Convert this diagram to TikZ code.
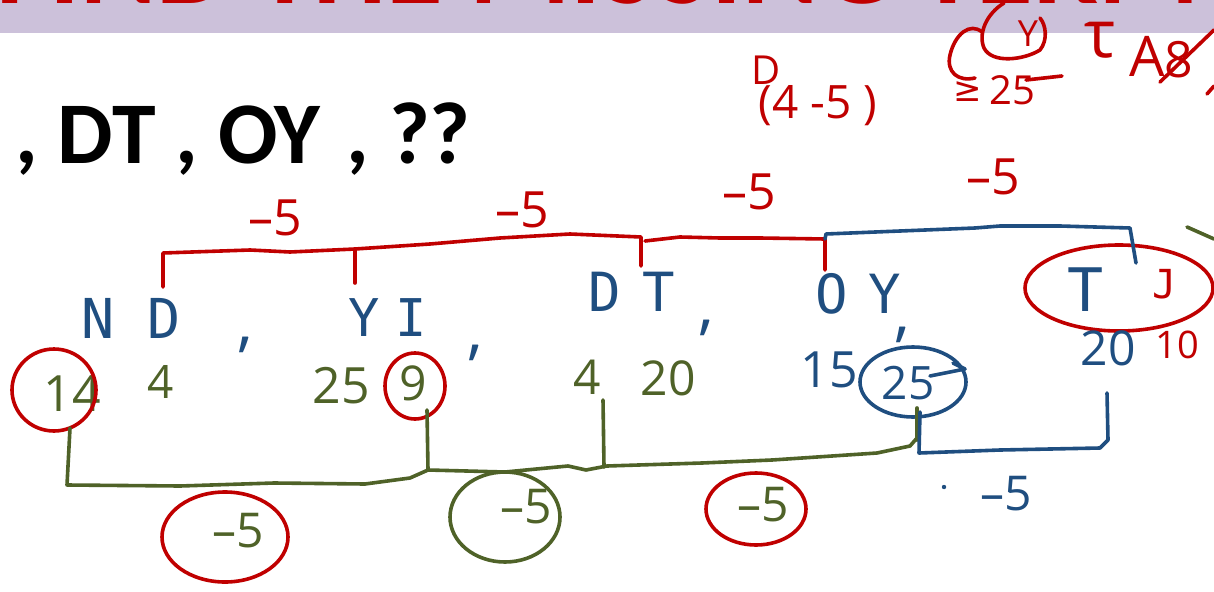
\documentclass[tikz,border=0pt]{standalone}
\usepackage{fontspec}
\usetikzlibrary{shapes.geometric}
\setmainfont{Carlito}
\newfontfamily\hand{Open Sans}
\newfontfamily\handl{DejaVu Sans Mono}
\newfontfamily\symf{DejaVu Sans}
\definecolor{inkred}{RGB}{192,0,0}
\definecolor{inkblue}{RGB}{31,78,128}
\definecolor{inkgreen}{RGB}{79,98,40}
\definecolor{bandc}{RGB}{204,193,218}
\newcommand\fsz[1]{\fontsize{#1}{#1}\selectfont}
\begin{document}
\begin{tikzpicture}[x=1pt,y=-1pt,
  pen/.style={line width=3.6pt,line cap=round,line join=round},
  rp/.style={pen,draw=inkred},
  bp/.style={pen,draw=inkblue},
  gp/.style={pen,draw=inkgreen},
  hw/.style={inner sep=0pt},
  rt/.style={hw,text=inkred},
  bt/.style={hw,text=inkblue},
  gt/.style={hw,text=inkgreen},
  sz/.style={font=\hand\fsz{#1}},
  lz/.style={font=\handl\fsz{#1}},
]
\useasboundingbox (0,0) rectangle (1214,591);
\fill[white] (0,0) rectangle (1214,591);
% title band
\begin{scope}
  \clip (0,0) rectangle (1214,33);
  \fill[bandc] (0,0) rectangle (1214,33);
  \node[anchor=base west,inner sep=0pt,text=inkred,font=\bfseries\fsz{116}] (title) at (-4,4) {FIND THE MISSING TERM};
\end{scope}
% typed series
\node[anchor=base west,inner sep=0pt,font=\bfseries\fsz{88}] (series) at (15,163) {, DT , OY\hspace{26pt}, ??};

% red notes at top
\node[rt,sz=40] (dnote) at (766,70) {D};
\node[rt,sz=46] (fnote) at (818,106) {(4 -5 )};
\node[rt,sz=36] (ynote) at (1028,34) {Y};
\draw[rp] (1004,3) .. controls (986,14) and (978,34) .. (984,48) .. controls (992,64) and (1024,60) .. (1040,50) .. controls (1048,40) and (1046,25) .. (1040,18);
\draw[rp] (982,32) .. controls (970,22) and (955,34) .. (950,55) .. controls (946,72) and (958,82) .. (975,78);
\node[rt,font=\symf\fsz{34}] (gnote) at (968,92) {≥};
\node[rt,sz=40] (tfnote) at (1012,90) {25};
\draw[rp] (1026,80) -- (1062,76);
\node[rt,sz=66] (taunote) at (1100,40) {τ};
\node[rt,sz=56] (anote) at (1147,56) {A};
\node[rt,sz=50] (enote) at (1179,60) {8};
\draw[rp] (1160,82) -- (1214,30);
\draw[rp] (1207,94) -- (1214,86);

% red difference labels
\node[rt,sz=50] (r1) at (275,218) {–5};
\node[rt,sz=50] (r2) at (522,210) {–5};
\node[rt,sz=50] (r3) at (749,192) {–5};
\node[rt,sz=50] (r4) at (993,177) {–5};

% letter pairs
\node[bt,lz=55] (nd) at (131,318) {N D};
\node[bt,lz=52] (yi) at (388,318) {Y\hspace{16pt}I};
\node[bt,lz=54] (dt) at (632,292) {D\hspace{22pt}T};
\node[bt,lz=54] (oy) at (858,294) {O\hspace{21pt}Y};
\node[bt,lz=60] (tt) at (1086,290) {T};
\node[rt,lz=40] (jj) at (1165,284) {J};
\node[draw=inkred,line width=3.6pt,ellipse,minimum width=188pt,minimum height=86pt,inner sep=0pt] (tjring) at (1119,288) {};

% commas
\node[bt,sz=64] (c1) at (245,345) {,};
\node[bt,sz=64] (c2) at (475,353) {,};
\node[bt,sz=64] (c3) at (706,328) {,};
\node[bt,sz=64] (c4) at (902,335) {,};

% top brackets
\coordinate (rb1) at (163,287);
\coordinate (rb2) at (355,283);
\coordinate (rb3) at (641,266);
\coordinate (rb4) at (825,270);
\coordinate (bb2) at (1136,263);
\draw[rp] (rb1) -- (163,253) -- (250,250) -- (290,252) -- (355,249) -- (430,244) -- (500,238) -- (570,234) -- (641,237) -- (rb3);
\draw[rp] (rb2) -- (355,249);
\draw[rp] (645,241) -- (680,237) -- (720,238) -- (760,238) -- (825,239) -- (rb4);
\draw[bp] (825,239) -- (826,234) -- (900,231) -- (975,228) -- (1000,226) -- (1060,226) -- (1130,228) -- (bb2);
\draw[gp] (1187,227) -- (1214,239);

% numbers
\node[gt,sz=50] (n14) at (72,394) {14};
\draw[rp] (54,390) ellipse [x radius=42pt,y radius=41pt];
\node[gt,sz=46] (n4a) at (161,382) {4};
\node[gt,sz=50] (n25a) at (341,386) {25};
\node[gt,sz=48] (n9) at (413,383) {9};
\draw[rp] (415,386) ellipse [x radius=30pt,y radius=33pt];
\node[gt,sz=48] (n4b) at (587,377) {4};
\node[gt,sz=48] (n20a) at (668,378) {20};
\node[bt,sz=50] (n15) at (829,370) {15};
\node[bt,sz=46] (n25b) at (908,383) {25};
\draw[bp] (913,382) ellipse [x radius=53pt,y radius=35pt];
\draw[bp] (930,376) -- (965,369) -- (953,363);
\node[bt,sz=48] (n20b) at (1108,348) {20};
\node[rt,sz=38] (n10) at (1177,345) {10};

% bottom brackets
\coordinate (g1) at (70,428);
\coordinate (g2) at (427,410);
\coordinate (g3) at (603,400);
\coordinate (g4) at (917,408);
\coordinate (bl1) at (920,412);
\coordinate (bl2) at (1107,393);
\draw[gp] (g1) -- (67,485) -- (180,486) -- (274,483) -- (365,484) -- (410,478) -- (428,470) -- (505,472) -- (568,466) -- (586,470) -- (607,466) -- (702,463) -- (772,460) -- (877,453) -- (910,446) -- (917,438);
\draw[gp] (g2) -- (428,470);
\draw[gp] (g3) -- (604,467);
\draw[gp] (g4) -- (917,440);
\draw[bp] (bl1) -- (919,453) -- (1000,450) -- (1100,448) -- (1108,440) -- (bl2);

% circled differences
\draw[rp] (225,537) ellipse [x radius=63pt,y radius=45pt];
\node[gt,sz=48] (d1) at (238,531) {–5};
\draw[gp] (505,517) ellipse [x radius=55pt,y radius=45pt];
\node[gt,sz=48] (d2) at (526,507) {–5};
\draw[rp] (756,509) ellipse [x radius=50pt,y radius=36pt];
\node[gt,sz=48] (d3) at (763,505) {–5};
\fill[inkblue] (944,487) circle (2.2pt);
\node[bt,sz=48] (d4) at (1006,494) {–5};
\end{tikzpicture}
\end{document}
